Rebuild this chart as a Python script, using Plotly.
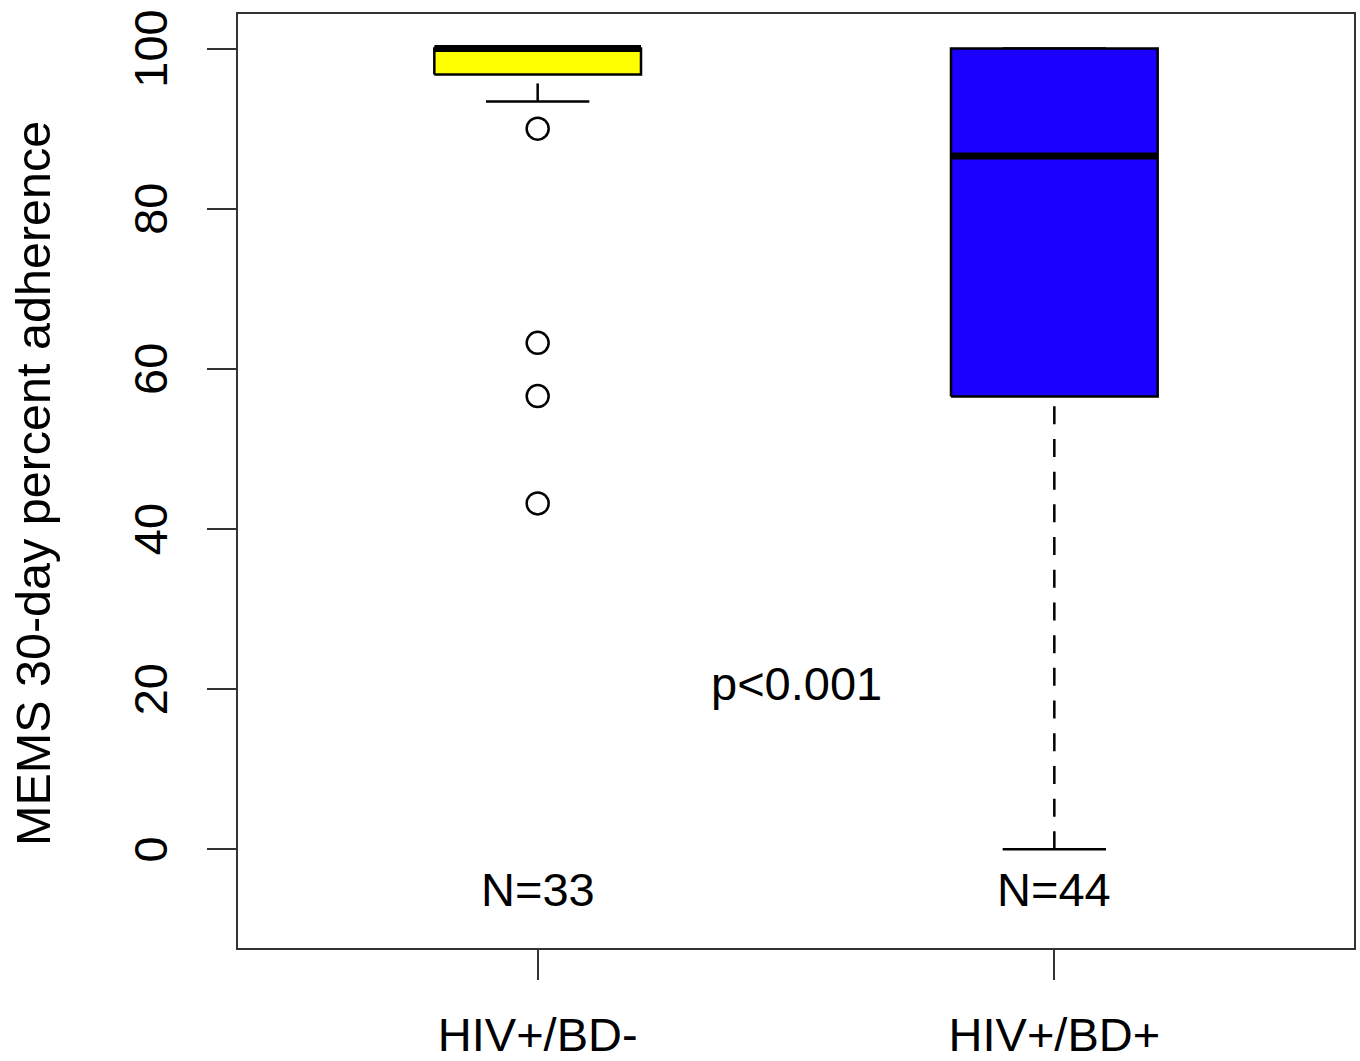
import plotly.graph_objects as go

# ---- data ----
categories = ["HIV+/BD-", "HIV+/BD+"]
positions = [1, 2]
q1 = [96.75, 56.55]
medians = [100.0, 86.6]
q3 = [100.0, 100.0]
lower_whisker = [93.4, 0.0]
upper_whisker = [100.0, 100.0]
outliers = [[90.0, 63.25, 56.6, 43.2], []]
fill_colors = ["#ffff00", "#1c00ff"]
n_labels = ["N=33", "N=44"]
n_label_y = -5
p_text = "p<0.001"
p_pos = (1.5, 20.75)
y_ticks = [0, 20, 40, 60, 80, 100]
y_title = "MEMS 30-day percent adherence"

# ---- style ----
FONT = "Liberation Sans, Arial, Helvetica, sans-serif"
FS = 47
BOX_HALF = 0.2
CAP_HALF = 0.1
LW = 2.5

fig = go.Figure()

for i, c in enumerate(positions):
    # whiskers (dashed), drawn from whisker end toward the box
    fig.add_trace(go.Scatter(x=[c, c], y=[lower_whisker[i], q1[i]], mode="lines",
                             line=dict(color="black", width=LW, dash="18px,14.7px"),
                             hoverinfo="skip", showlegend=False))
    fig.add_trace(go.Scatter(x=[c, c], y=[upper_whisker[i], q3[i]], mode="lines",
                             line=dict(color="black", width=LW, dash="18px,14.7px"),
                             hoverinfo="skip", showlegend=False))
    # staples
    for w in (lower_whisker[i], upper_whisker[i]):
        fig.add_trace(go.Scatter(x=[c - CAP_HALF, c + CAP_HALF], y=[w, w], mode="lines",
                                 line=dict(color="black", width=LW),
                                 hoverinfo="skip", showlegend=False))
    # box
    fig.add_trace(go.Scatter(x=[c - BOX_HALF, c + BOX_HALF, c + BOX_HALF, c - BOX_HALF, c - BOX_HALF],
                             y=[q1[i], q1[i], q3[i], q3[i], q1[i]],
                             mode="lines", fill="toself", fillcolor=fill_colors[i],
                             line=dict(color="black", width=LW),
                             hoverinfo="skip", showlegend=False))
    # median
    fig.add_trace(go.Scatter(x=[c - BOX_HALF, c + BOX_HALF], y=[medians[i], medians[i]], mode="lines",
                             line=dict(color="black", width=7),
                             hoverinfo="skip", showlegend=False))
    # outliers
    if outliers[i]:
        fig.add_trace(go.Scatter(x=[c] * len(outliers[i]), y=outliers[i], mode="markers",
                                 marker=dict(symbol="circle-open", size=22, color="black",
                                             line=dict(width=2.5, color="black")),
                                 hoverinfo="skip", showlegend=False))
    # N labels
    fig.add_annotation(x=c, y=n_label_y, text=n_labels[i], showarrow=False,
                       xanchor="center", yanchor="middle",
                       font=dict(family=FONT, size=FS, color="black"))

fig.add_annotation(x=p_pos[0], y=p_pos[1], text=p_text, showarrow=False,
                   xanchor="center", yanchor="middle",
                   font=dict(family=FONT, size=FS, color="black"))

fig.add_annotation(xref="paper", yref="paper", x=0, y=0.5, xshift=-205, yshift=-3,
                   text=y_title, showarrow=False, textangle=-90,
                   xanchor="center", yanchor="middle",
                   font=dict(family=FONT, size=48.5, color="black"))

fig.update_layout(
    width=1360, height=1061,
    margin=dict(l=238, r=6, t=14, b=113, autoexpand=False),
    paper_bgcolor="white", plot_bgcolor="white",
    font=dict(family=FONT, size=FS, color="black"),
    showlegend=False,
    xaxis=dict(range=[0.42, 2.58], tickvals=positions, ticktext=categories,
               ticks="outside", ticklen=30, tickwidth=2, tickcolor="#333",
               showline=True, mirror=True, linecolor="#333", linewidth=2,
               showgrid=False, zeroline=False, ticklabelstandoff=15, automargin=False,
               ticklabeloverflow="allow",
               tickfont=dict(family=FONT, size=FS, color="black")),
    yaxis=dict(range=[-12.32, 104.32], tickvals=y_ticks,
               ticks="outside", ticklen=29, tickwidth=2, tickcolor="#333",
               showline=True, mirror=True, linecolor="#333", linewidth=2,
               showgrid=False, zeroline=False, tickangle=-90, ticklabelstandoff=21,
               ticklabelshift=7,
               automargin=False, ticklabeloverflow="allow",
               tickfont=dict(family=FONT, size=FS, color="black")),
)

# remove the default page margin so the 1360x1061 figure fills the window exactly
fig.write_html("out.html", config={"displayModeBar": False},
               post_script="document.body.style.margin='0';document.body.style.overflow='hidden';")
